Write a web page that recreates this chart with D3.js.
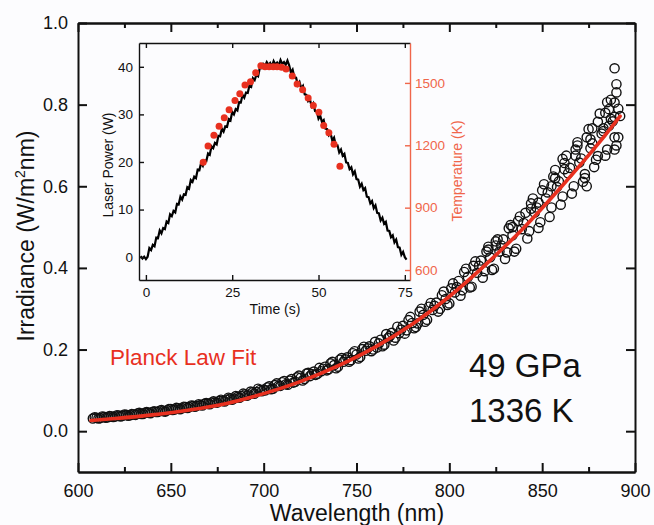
<!DOCTYPE html>
<html>
<head>
<meta charset="utf-8">
<script src="https://cdn.jsdelivr.net/npm/d3@7/dist/d3.min.js"></script>
<style>
  html, body { margin: 0; padding: 0; background: #fcfcfe; }
  svg { display: block; font-family: "Liberation Sans", Arial, sans-serif; }
</style>
</head>
<body>
<div id="chart"></div>
<script>
// ---- Main spectrum: measured irradiance, one reading every 2 nm from 608 nm ----
const wavelengthStart = 608;
const wavelengthStep = 2;
const irradiance = [
  .031,.033,.032,.035,.034,.036,.036,.038,.038,.040,.039,.041,.043,.042,.045,.045,
  .047,.047,.050,.049,.051,.054,.053,.056,.056,.059,.059,.062,.062,.064,.067,.067,
  .070,.071,.074,.074,.077,.080,.080,.084,.086,.090,.090,.095,.096,.101,.102,
  .107,.103,.113,.111,.120,.115,.124,.119,.132,.131,.128,.143,.140,.138,.155,.153,
  .149,.166,.162,.158,.179,.176,.170,.191,.188,.182,.207,.203,.196,.219,
  .215,.208,.238,.233,.222,.256,.249,.239,.272,.265,.255,.293,.285,.273,.314,.307,
  .293,.333,.324,.313,
  .362,.353,.332,.390,.378,.354,.416,.405,.376,.440,.426,.398,.470,.455,.422,.497,
  .480,.447,.526,.510,
  .472,.558,.536,.498,.590,.570,.525,.624,.598,.555,.657,.632,.582,.690,.658,.611,
  .720,.693,.647,.758,.729,.675,.789,.759,.700,.772
];
// second pass of the spectrometer, every 2 nm from 609 nm
const wavelengthStart2 = 609;
const irradiance2 = [
  .034,.031,.036,.033,.037,.035,.039,.036,.041,.038,.042,.040,.045,.042,.047,.044,
  .049,.047,.052,.048,.054,.052,.057,.054,.060,.057,.063,.060,.066,.063,.069,.066,
  .073,.070,.077,.073,.082,.077,.086,.082,.092,.087,.097,.092,.104,.098,
  .100,.110,.104,.117,.111,.123,.114,.128,.121,.136,.124,.141,.135,.146,.141,.147,
  .158,.152,.170,.154,.175,.170,.181,.174,.196,.178,.201,.197,.208,.200,
  .205,.224,.212,.228,.241,.229,.240,.258,.247,.280,.252,.264,.300,.268,.305,.297,
  .315,.300,.342,.309,
  .350,.340,.368,.345,.398,.352,.405,.388,.418,.392,.452,.395,.455,.440,.470,.438,
  .505,.440,.515,.495,
  .535,.490,.570,.548,.512,.605,.585,.548,.640,.612,.575,.675,.645,.600,.708,.668,
  .630,.740,.705,.665,.778,.742,.690,.812,.770,.720
];
// repeated readings in the long-wavelength tail [nm, W/m^2nm]
const tailReadings = [
  [889,.889],[890,.850],[890,.830],[889,.805],[891,.790],[887,.765],[885,.806],
  [884,.780],[886,.748],[883,.735],[877,.742],[876,.715],[869,.700],[868,.675],
  [861,.667],[862,.642],[857,.620],[855,.600],[848,.560],[844,.545],[834,.500],
  [825,.465],[821,.445],[873,.620],[874,.600],[880,.674],[889,.690],[889,.720]
];

// ---- Planck law fit curve ----
const fitWavelength = [607, 620, 640, 660, 680, 700, 720, 740, 760, 780, 800, 820, 840, 860, 880, 892];
const fitIrradiance = [.026,.031,.040,.052,.068,.092,.122,.160,.206,.262,.330,.410,.498,.597,.703,.772];

// ---- Inset: laser power trace, every 0.5 s from -1.5 s ----
const powerTimeStart = -1.5;
const powerTimeStep = 0.5;
const laserPower = [
  0.2,-0.3,0.1,
  -0.4,0.1,1.9,1.5,2.6,2.3,4.1,4.0,5.6,5.0,6.1,5.9,7.5,7.2,9.0,8.6,9.7,9.4,11.2,11.1,
  12.7,12.1,13.2,13.1,14.7,14.4,16.2,15.8,16.9,16.6,18.4,18.3,19.8,19.2,20.3,20.2,
  21.8,21.5,23.3,22.9,24.0,23.7,25.5,25.4,27.0,26.4,27.5,27.4,29.0,28.7,30.5,30.0,
  31.1,30.8,32.6,32.5,34.1,33.5,34.6,34.5,36.1,35.8,37.6,37.2,38.3,38.0,39.8,39.7,
  40.6,40.2,41.0,40.4,40.8,40.1,41.2,40.5,40.9,40.3,41.4,40.6,41.0,40.4,41.3,
  40.3,38.8,39.4,37.8,37.7,36.2,36.8,35.5,36.0,34.2,34.1,32.8,33.2,31.7,32.3,30.7,
  30.6,29.1,29.7,28.4,28.8,27.0,26.9,25.6,26.0,24.5,25.1,23.5,23.5,22.0,22.6,21.3,
  21.7,19.9,19.8,18.5,18.9,17.4,18.0,16.4,16.3,14.8,15.4,14.1,14.5,12.7,12.6,11.3,
  11.8,10.3,10.9,9.3,9.2,7.7,8.3,7.0,7.4,5.6,5.5,4.2,4.6,3.1,3.7,2.1,2.0,0.5,1.1,
  0.0,-0.5
];

// ---- Inset: temperature readings ----
const tempTime = [16.6,18.0,19.7,21.2,22.7,24.1,25.8,27.2,28.7,30.3,31.8,33.3,34.5,35.7,
  36.9,38.0,39.3,40.6,42.4,43.8,45.4,47.0,48.5,50.1,51.5,53.0,54.5,56.2];
const temperature = [1118,1197,1248,1292,1333,1371,1416,1448,1490,1506,1549,1582,1578,1578,
  1578,1578,1575,1567,1533,1495,1467,1427,1391,1359,1295,1260,1205,1099];

// ---- Tick values ----
const xMajorTicks = [600, 650, 700, 750, 800, 850, 900];
const xMinorTicks = [625, 675, 725, 775, 825, 875];
const yTicks = [0.0, 0.2, 0.4, 0.6, 0.8, 1.0];
const timeTicks = [0, 25, 50, 75];
const powerTicks = [0, 10, 20, 30, 40];
const tempTicks = [600, 900, 1200, 1500];

const RED = "#e8301f";
const AXIS_RED = "#f0664a";

const W = 654, H = 525;
const svg = d3.select("#chart").append("svg").attr("width", W).attr("height", H);
svg.append("rect").attr("width", W).attr("height", H).attr("fill", "#fcfcfe");

// ---------- main panel ----------
const x = d3.scaleLinear([600, 900], [78, 635]);
const y = d3.scaleLinear([-0.1, 1.0], [472, 23]);

function styleAxis(g, width, fontSize, color) {
  g.selectAll("path.domain").attr("stroke", color).attr("stroke-width", width);
  g.selectAll(".tick line").attr("stroke", color).attr("stroke-width", width);
  g.selectAll(".tick text").attr("fill", color).attr("font-size", fontSize)
    .attr("font-family", "Liberation Sans, Arial, sans-serif");
}

const scatter = irradiance.map((v, i) => [wavelengthStart + i * wavelengthStep, v])
  .concat(irradiance2.map((v, i) => [wavelengthStart2 + i * wavelengthStep, v]))
  .concat(tailReadings);

svg.append("g").selectAll("circle").data(scatter).join("circle")
  .attr("cx", d => x(d[0])).attr("cy", d => y(d[1])).attr("r", 4.6)
  .attr("fill", "none").attr("stroke", "#111").attr("stroke-width", 1.4);

const fitLine = d3.line().x(d => x(d[0])).y(d => y(d[1])).curve(d3.curveMonotoneX);
svg.append("path").datum(fitWavelength.map((w, i) => [w, fitIrradiance[i]]))
  .attr("d", fitLine).attr("fill", "none").attr("stroke", RED)
  .attr("stroke-width", 3.6).attr("stroke-linecap", "round");

// axes of the main panel, ticks pointing inward on all four sides
const gB = svg.append("g").attr("transform", "translate(0,472)")
  .call(d3.axisBottom(x).tickValues(xMajorTicks).tickSize(-9).tickSizeOuter(0).tickPadding(12).tickFormat(d3.format("d")));
styleAxis(gB, 2, 18, "#111");
const gBm = svg.append("g").attr("transform", "translate(0,472)")
  .call(d3.axisBottom(x).tickValues(xMinorTicks).tickSize(-5).tickSizeOuter(0).tickFormat(""));
styleAxis(gBm, 2, 18, "#111");
const gT = svg.append("g").attr("transform", "translate(0,23)")
  .call(d3.axisTop(x).tickValues(xMajorTicks).tickSize(-9).tickSizeOuter(0).tickFormat(""));
styleAxis(gT, 2, 18, "#111");
const gTm = svg.append("g").attr("transform", "translate(0,23)")
  .call(d3.axisTop(x).tickValues(xMinorTicks).tickSize(-5).tickSizeOuter(0).tickFormat(""));
styleAxis(gTm, 2, 18, "#111");
const gL = svg.append("g").attr("transform", "translate(78,0)")
  .call(d3.axisLeft(y).tickValues(yTicks).tickSize(-9).tickSizeOuter(0).tickPadding(10).tickFormat(d3.format(".1f")));
styleAxis(gL, 2, 18, "#111");
const gR = svg.append("g").attr("transform", "translate(635,0)")
  .call(d3.axisRight(y).tickValues(yTicks).tickSize(-9).tickSizeOuter(0).tickFormat(""));
styleAxis(gR, 2, 18, "#111");

svg.append("text").attr("x", 357).attr("y", 521).attr("text-anchor", "middle")
  .attr("font-size", 23).attr("fill", "#111").text("Wavelength (nm)");
svg.append("text").attr("transform", "translate(34,236) rotate(-90)").attr("text-anchor", "middle")
  .attr("font-size", 23).attr("fill", "#111")
  .call(t => {
    t.append("tspan").text("Irradiance (W/m");
    t.append("tspan").attr("font-size", 14).attr("dy", -9).text("2");
    t.append("tspan").attr("dy", 9).text("nm)");
  });

svg.append("text").attr("x", 110).attr("y", 365).attr("font-size", 22.5)
  .attr("fill", RED).text("Planck Law Fit");
svg.append("text").attr("x", 469).attr("y", 377).attr("font-size", 33)
  .attr("fill", "#111").text("49 GPa");
svg.append("text").attr("x", 469).attr("y", 422).attr("font-size", 33)
  .attr("fill", "#111").text("1336 K");

// ---------- inset: laser power and temperature vs time ----------
const ix = d3.scaleLinear([-2, 76.5], [139, 410]);
const iy = d3.scaleLinear([-4.8, 45], [280, 43]);
const iT = d3.scaleLinear([552, 1692], [280, 43]);

svg.append("rect").attr("x", 139).attr("y", 43).attr("width", 271).attr("height", 237)
  .attr("fill", "#fcfcfe");

const powerLine = d3.line().x(d => ix(d[0])).y(d => iy(d[1]));
svg.append("path")
  .datum(laserPower.map((p, i) => [powerTimeStart + i * powerTimeStep, p]))
  .attr("d", powerLine).attr("fill", "none").attr("stroke", "#000")
  .attr("stroke-width", 2.2).attr("stroke-linejoin", "miter");

svg.append("g").selectAll("circle").data(tempTime.map((t, i) => [t, temperature[i]])).join("circle")
  .attr("cx", d => ix(d[0])).attr("cy", d => iT(d[1])).attr("r", 3.5).attr("fill", RED);

const iB = svg.append("g").attr("transform", "translate(0,280)")
  .call(d3.axisBottom(ix).tickValues(timeTicks).tickSize(-5).tickSizeOuter(0).tickPadding(7.5));
styleAxis(iB, 1.4, 13.5, "#111");
const iTop = svg.append("g").attr("transform", "translate(0,43)")
  .call(d3.axisTop(ix).tickValues(timeTicks).tickSize(-5).tickSizeOuter(0).tickFormat(""));
styleAxis(iTop, 1.4, 13.5, "#111");
const iL = svg.append("g").attr("transform", "translate(139,0)")
  .call(d3.axisLeft(iy).tickValues(powerTicks).tickSize(-5).tickSizeOuter(0).tickPadding(6));
styleAxis(iL, 1.4, 13.5, "#111");
const iR = svg.append("g").attr("transform", "translate(410,0)")
  .call(d3.axisRight(iT).tickValues(tempTicks).tickSize(-5).tickSizeOuter(0).tickPadding(5).tickFormat(d3.format("d")));
styleAxis(iR, 1.4, 13.5, AXIS_RED);

svg.append("text").attr("x", 275).attr("y", 314).attr("text-anchor", "middle")
  .attr("font-size", 14).attr("fill", "#111").text("Time (s)");
svg.append("text").attr("transform", "translate(113,165) rotate(-90)").attr("text-anchor", "middle")
  .attr("font-size", 14).attr("fill", "#111").text("Laser Power (W)");
svg.append("text").attr("transform", "translate(462,171) rotate(-90)").attr("text-anchor", "middle")
  .attr("font-size", 14).attr("fill", AXIS_RED).text("Temperature (K)");
</script>
</body>
</html>
